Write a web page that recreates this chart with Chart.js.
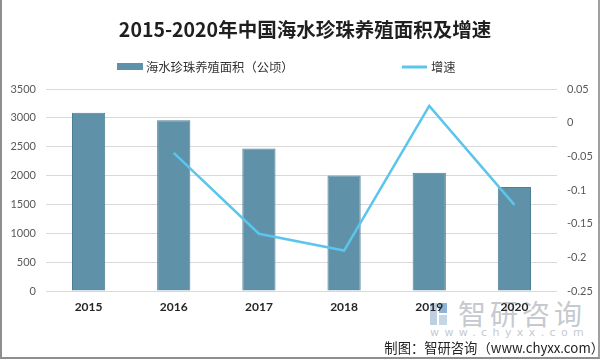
<!DOCTYPE html>
<html>
<head>
<meta charset="utf-8">
<script src="https://cdn.jsdelivr.net/npm/chart.js@4.4.1/dist/chart.umd.min.js"></script>
<style>
  html, body { margin: 0; padding: 0; background: #fff; }
  #wrap { position: relative; width: 600px; height: 360px; overflow: hidden; }
  #frame { position: absolute; left: 0; top: 0; width: 596px; height: 357px;
           border-left: 2px solid #8e8e8e; border-right: 2px solid #a0a0a0; border-bottom: 2px solid #8e8e8e; }
  #wm { position: absolute; left: 430px; top: 298px; width: 170px; height: 45px; }
  #wm .big { position: absolute; left: 28px; top: 0px; font-family: "Noto Sans CJK SC"; font-size: 28px; line-height: 30px;
             color: #c6cacf; letter-spacing: 4px; white-space: nowrap; }
  #wm .url { position: absolute; left: 0px; top: 29px; font-family: "DejaVu Sans"; font-size: 11px; line-height: 12px; color: #c6cacf;
             letter-spacing: 5.4px; white-space: nowrap; }
  #wm .l1 { position: absolute; left: 0px; top: 5px; width: 7px; height: 22px; background: #bcd0e2; }
  #wm .l2 { position: absolute; left: 9px; top: 5px; width: 8px; height: 10px; background: #8fb3d6; }
  #wm .l3 { position: absolute; left: 9px; top: 17px; width: 8px; height: 10px; background: #c4d6e8; }
  canvas { position: absolute; left: 0; top: 0; }
</style>
</head>
<body>
<div id="wrap">
  <div id="wm"><div class="l1"></div><div class="l2"></div><div class="l3"></div>
    <div class="big">智研咨询</div><div class="url">www.chyxx.com</div></div>
  <div id="frame"></div>
  <canvas id="c" width="600" height="360"></canvas>
</div>
<script>
const titleText = "2015-2020年中国海水珍珠养殖面积及增速";
const categories = ["2015", "2016", "2017", "2018", "2019", "2020"];
const areaLabel = "海水珍珠养殖面积（公顷）";
const areaValues = [3090, 2960, 2470, 2000, 2050, 1800];
const growthLabel = "增速";
const growthValues = [null, -0.045, -0.165, -0.19, 0.025, -0.122];
const sourceText = "制图：智研咨询（www.chyxx.com）";

const barColor = "#5f91a9";
const lineColor = "#5cc5ec";
const cjk = '"Noto Sans CJK SC", "Noto Sans", sans-serif';

const decor = {
  id: "decor",
  afterDraw(chart) {
    const ctx = chart.ctx;
    const ds = chart.data.datasets;
    ctx.save();
    // title
    ctx.fillStyle = "#1f1f1f";
    ctx.font = "bold 19.5px " + cjk;
    ctx.textAlign = "center";
    ctx.textBaseline = "middle";
    ctx.fillText(titleText, 305, 30);
    // legend
    ctx.font = "12.3px " + cjk;
    ctx.textAlign = "left";
    ctx.fillStyle = ds[0].backgroundColor;
    ctx.fillRect(117, 63, 26, 7);
    ctx.fillStyle = "#333";
    ctx.fillText(ds[0].label, 146, 67);
    ctx.strokeStyle = ds[1].borderColor;
    ctx.lineWidth = 3;
    ctx.beginPath(); ctx.moveTo(402, 67); ctx.lineTo(427, 67); ctx.stroke();
    ctx.fillStyle = "#333";
    ctx.fillText(ds[1].label, 431, 67);
    // source
    ctx.font = "13.3px " + cjk;
    ctx.textAlign = "right";
    ctx.fillStyle = "#222";
    ctx.fillText(sourceText, 604, 348);
    ctx.restore();
  }
};

new Chart(document.getElementById("c"), {
  type: "bar",
  data: {
    labels: categories,
    datasets: [
      {
        type: "bar", label: areaLabel, data: areaValues, yAxisID: "y",
        backgroundColor: barColor, borderColor: "#4d7f97", borderWidth: 1,
        categoryPercentage: 1, barPercentage: 0.39, order: 2
      },
      {
        type: "line", label: growthLabel, data: growthValues, yAxisID: "y1",
        borderColor: lineColor, backgroundColor: lineColor, borderWidth: 2.5,
        pointRadius: 0, tension: 0, fill: false, order: 1
      }
    ]
  },
  options: {
    responsive: false,
    animation: false,
    layout: { padding: { top: 89, left: 0, right: 0, bottom: 0 } },
    plugins: { legend: { display: false }, title: { display: false }, tooltip: { enabled: false } },
    scales: {
      x: {
        grid: { display: false, drawTicks: false },
        border: { display: false },
        ticks: { color: "#262626", font: { family: "Lato, 'Liberation Sans'", size: 12, weight: "bold" }, padding: 9 },
        afterFit(s) { s.height = 69; }
      },
      y: {
        position: "left", min: 0, max: 3500,
        grid: { color: "#d9d9d9", lineWidth: 1, drawTicks: false },
        border: { display: false },
        ticks: {
          stepSize: 500, color: "#595959", font: { family: "Lato, 'Liberation Sans'", size: 11 }, padding: 10,
          callback: v => String(v)
        },
        afterFit(s) { s.width = 46; }
      },
      y1: {
        position: "right", min: -0.25, max: 0.05,
        grid: { display: false, drawTicks: false },
        border: { display: false },
        ticks: {
          stepSize: 0.05, color: "#595959", font: { family: "Lato, 'Liberation Sans'", size: 11 }, padding: 10,
          callback: v => String(Number(v.toFixed(2)))
        },
        afterFit(s) { s.width = 43; }
      }
    }
  },
  plugins: [decor]
});
</script>
</body>
</html>
